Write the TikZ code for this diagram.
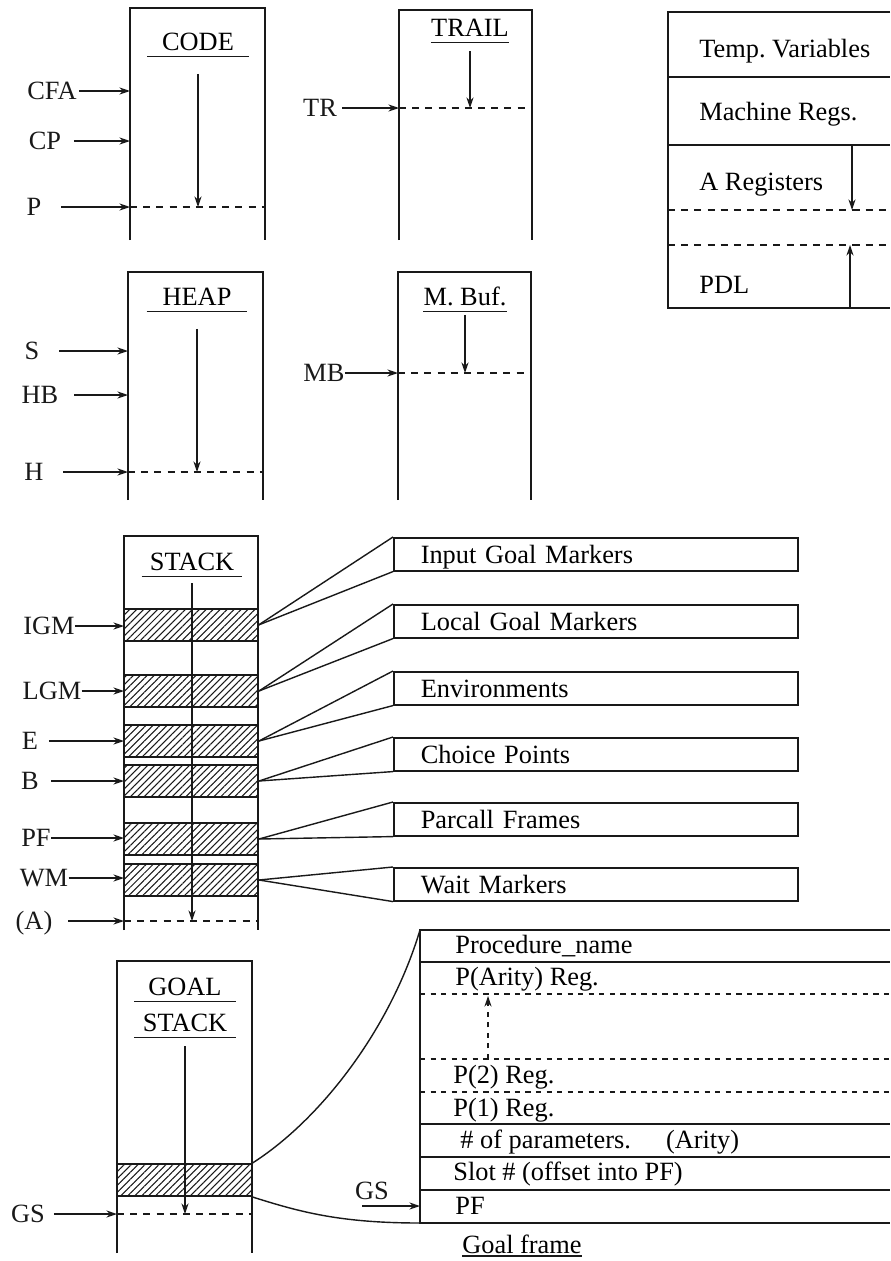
\documentclass[tikz,border=0pt]{standalone}
\usepackage{fontspec}
\setmainfont{Liberation Serif}
\frenchspacing
\usetikzlibrary{arrows.meta, positioning, patterns.meta, calc}
\definecolor{Ink}{RGB}{25, 25, 25}
\tikzset{
  % outline of a memory area
  membox/.style={draw=Ink, line width=0.9pt},
  % pointer name left of an area
  ptrlbl/.style={inner sep=0pt, text height=10pt, text depth=0pt, text=Ink},
  % pointer arrow (gap before the tail as argument)
  ptr/.style={-{Stealth[length=6pt,width=4pt]}, line width=0.8pt, draw=Ink,
              shorten <=#1},
  ptr/.default=1pt,
  % growth direction inside an area
  growarrow/.style={-{Stealth[length=6pt,width=4pt]}, line width=0.6pt, draw=Ink},
  % current top of an area
  toptick/.style={dash pattern=on 4pt off 3.5pt, line width=0.8pt, draw=Ink},
  % underlined area title
  areatitle/.style={inner xsep=0pt, inner ysep=3pt, text height=10pt,
                    text depth=0pt, minimum width=#1,
    append after command={(\tikzlastnode.south west)
                          edge[line width=0.8pt, draw=Ink] (\tikzlastnode.south east)}},
  areatitle/.default=0pt,
  % hatched frame inside the stack
  band/.style={rectangle, draw=Ink, line width=1.1pt,
               pattern={Lines[angle=45, distance=2.8pt, line width=0.6pt]},
               pattern color=Ink, minimum width=2.68cm, minimum height=0.64cm,
               inner sep=0pt},
  % legend box for a frame type
  flagbox/.style={rectangle, draw=Ink, line width=0.9pt, anchor=north west,
                  minimum height=0.66cm, text width=7cm, inner xsep=0.54cm,
                  inner ysep=0pt, align=left, text height=10pt, text depth=0pt},
  fan/.style={line width=0.8pt, draw=Ink},
  % left aligned text in a table
  frametxt/.style={anchor=west, inner sep=0pt, text height=10pt, text depth=0pt}
}
\begin{document}
\begin{tikzpicture}[x=0.02cm, y=-0.02cm, font=\fontsize{15}{18}\selectfont]
  \useasboundingbox (0,0) rectangle (890,1261);

  % ── CODE ────────────────────────────────────────────────
  \coordinate (code-nw) at (130,8);
  \coordinate (code-ne) at (265,8);
  \draw[membox] (130,240) -- (code-nw) -- (code-ne) -- (265,240);
  \node[areatitle=2.02cm] (code) at (198,42) {CODE};
  \node[ptrlbl] (cfa) at (52,91)  {CFA};
  \node[ptrlbl] (cp)  at (45,141) {CP};
  \node[ptrlbl] (p)   at (34,207) {P};
  \draw[ptr]      (cfa.east) -- (cfa.east -| code-nw);
  \draw[ptr=7pt]  (cp.east)  -- (cp.east -| code-nw);
  \draw[ptr=11pt] (p.east)   -- (p.east -| code-nw);
  \draw[toptick] (p.east -| code-nw) -- (p.east -| code-ne);
  \draw[growarrow, shorten <=10pt] (code.south) -- (code.south |- p.east);

  % ── TRAIL ───────────────────────────────────────────────
  \coordinate (trail-nw) at (399,10);
  \coordinate (trail-ne) at (532,10);
  \draw[membox] (399,240) -- (trail-nw) -- (trail-ne) -- (532,240);
  \node[areatitle] (trail) at (470,28) {TRAIL};
  \node[ptrlbl] (tr) at (320,108) {TR};
  \draw[ptr=3pt] (tr.east) -- (tr.east -| trail-nw);
  \draw[toptick] (tr.east -| trail-nw) -- (tr.east -| trail-ne);
  \draw[growarrow, shorten <=5pt] (trail.south) -- (trail.south |- tr.east);

  % ── REGISTERS ───────────────────────────────────────────
  \coordinate (reg-nw) at (668,12);
  \coordinate (reg-sw) at (668,308);
  \draw[membox] (890,12) -- (reg-nw) -- (reg-sw) -- (890,308);
  \foreach \y in {77,145} \draw[membox] (668,\y) -- (890,\y);
  \foreach \y in {210,245} \draw[toptick] (668,\y) -- (890,\y);
  \node[frametxt] (r-temp) at (699,49)  {Temp. Variables};
  \node[frametxt] (r-mach) at (699,112) {Machine Regs.};
  \node[frametxt] (r-areg) at (699,182) {A Registers};
  \node[frametxt] (r-pdl)  at (699,285) {PDL};
  \coordinate (areg-top) at (852,145);
  \coordinate (areg-end) at (852,210);
  \coordinate (pdl-bot)  at (850,308);
  \coordinate (pdl-end)  at (850,245);
  \draw[growarrow] (areg-top) -- (areg-end);
  \draw[growarrow] (pdl-bot) -- (pdl-end);

  % ── HEAP ────────────────────────────────────────────────
  \coordinate (heap-nw) at (128,272);
  \coordinate (heap-ne) at (263,272);
  \draw[membox] (128,500) -- (heap-nw) -- (heap-ne) -- (263,500);
  \node[areatitle=2cm] (heap) at (197,297) {HEAP};
  \node[ptrlbl] (s)  at (32,351) {S};
  \node[ptrlbl] (hb) at (40,395) {HB};
  \node[ptrlbl] (h)  at (34,472) {H};
  \draw[ptr=11pt] (s.east)  -- (s.east -| heap-nw);
  \draw[ptr=9pt]  (hb.east) -- (hb.east -| heap-nw);
  \draw[ptr=11pt] (h.east)  -- (h.east -| heap-nw);
  \draw[toptick] (h.east -| heap-nw) -- (h.east -| heap-ne);
  \draw[growarrow, shorten <=10pt] (heap.south) -- (heap.south |- h.east);

  % ── M. BUF. ─────────────────────────────────────────────
  \coordinate (mbuf-nw) at (398,272);
  \coordinate (mbuf-ne) at (531,272);
  \draw[membox] (398,500) -- (mbuf-nw) -- (mbuf-ne) -- (531,500);
  \node[areatitle] (mbuf) at (465,297) {M. Buf.};
  \node[ptrlbl] (mb) at (324,373) {MB};
  \draw[ptr=0pt] (mb.east) -- (mb.east -| mbuf-nw);
  \draw[toptick] (mb.east -| mbuf-nw) -- (mb.east -| mbuf-ne);
  \draw[growarrow, shorten <=2pt] (mbuf.south) -- (mbuf.south |- mb.east);

  % ── STACK ───────────────────────────────────────────────
  \coordinate (stack-nw) at (124,536);
  \coordinate (stack-ne) at (258,536);
  \draw[membox] (124,930) -- (stack-nw) -- (stack-ne) -- (258,930);
  \node[areatitle=2cm] (stack) at (192,562) {STACK};

  % frames on the stack and what they are
  \foreach \nm/\yb/\yf/\txt in {igm/625/537/Input Goal Markers,
                                lgm/691/604/Local Goal Markers,
                                env/741/671/Environments,
                                chp/781/737/Choice Points,
                                pcf/839/802/Parcall Frames,
                                wmk/880/867/Wait Markers} {
    \node[band] (b-\nm) at (191,\yb) {};
    \node[flagbox] (f-\nm) at (393,\yf) {\txt};
    \draw[fan] (b-\nm.east) -- (f-\nm.north west);
    \draw[fan] (b-\nm.east) -- (f-\nm.south west);
  }

  \node[ptrlbl] (igm) at (49,626) {IGM};
  \node[ptrlbl] (lgm) at (52,691) {LGM};
  \node[ptrlbl] (e)   at (30,741) {E};
  \node[ptrlbl] (b)   at (30,781) {B};
  \node[ptrlbl] (pf)  at (36,838) {PF};
  \node[ptrlbl] (wm)  at (44,878) {WM};
  \node[ptrlbl] (a)   at (34,921) {(A)};
  \draw[ptr=0pt] (igm.east) -- (igm.east -| stack-nw);
  \draw[ptr=0pt] (lgm.east) -- (lgm.east -| stack-nw);
  \draw[ptr=6pt] (e.east)   -- (e.east -| stack-nw);
  \draw[ptr=7pt] (b.east)   -- (b.east -| stack-nw);
  \draw[ptr=0pt] (pf.east)  -- (pf.east -| stack-nw);
  \draw[ptr=0pt] (wm.east)  -- (wm.east -| stack-nw);
  \draw[ptr=9pt] (a.east)   -- (a.east -| stack-nw);
  \draw[toptick] (a.east -| stack-nw) -- (a.east -| stack-ne);
  \draw[growarrow, shorten <=4pt] (stack.south) -- (stack.south |- a.east);

  % ── GOAL STACK ──────────────────────────────────────────
  \coordinate (goal-nw) at (117,961);
  \coordinate (goal-ne) at (252,961);
  \draw[membox] (117,1253) -- (goal-nw) -- (goal-ne) -- (252,1253);
  \node[areatitle=2.02cm] (goal1) at (185,987)  {GOAL};
  \node[areatitle=2.02cm] (goal2) at (185,1023) {STACK};
  \node[band, minimum width=2.7cm] (b-goal) at (184,1180) {};
  \node[ptrlbl] (gs) at (28,1214) {GS};
  \draw[ptr=5pt] (gs.east) -- (gs.east -| goal-nw);
  \draw[toptick] (gs.east -| goal-nw) -- (gs.east -| goal-ne);
  \draw[growarrow, shorten <=5pt] (goal2.south) -- (goal2.south |- gs.east);

  % ── GOAL FRAME ──────────────────────────────────────────
  \coordinate (gf-nw) at (420,930);
  \coordinate (gf-sw) at (420,1223);
  \draw[membox] (890,930) -- (gf-nw) -- (gf-sw) -- (890,1223);
  \foreach \y in {962,1124,1157,1190} \draw[membox] (420,\y) -- (890,\y);
  \foreach \y in {994,1059,1092} \draw[toptick, dash pattern=on 3pt off 3pt] (420,\y) -- (890,\y);
  \node[frametxt] (r-name)  at (455,945)  {Procedure\_name};
  \node[frametxt] (r-pn)    at (455,977)  {P(Arity) Reg.};
  \node[frametxt] (r-p2)    at (453,1075) {P(2) Reg.};
  \node[frametxt] (r-p1)    at (453,1108) {P(1) Reg.};
  \node[frametxt] (r-arity) at (460,1140) {\# of parameters.\hspace{20pt}(Arity)};
  \node[frametxt] (r-slot)  at (453,1172) {Slot \# (offset into PF)};
  \node[frametxt] (r-pf)    at (455,1206) {PF};
  \node[areatitle, inner ysep=1pt] (gframe) at (522,1245) {Goal frame};
  \coordinate (pn-lo) at (488,1059);
  \coordinate (pn-hi) at (488,996);
  \draw[growarrow, dash pattern=on 3pt off 3pt] (pn-lo) -- (pn-hi);

  % goal stack entry opened up into the frame
  \draw[fan] (b-goal.north east) .. controls (320,1120) and (390,1030) .. (gf-nw);
  \draw[fan] (b-goal.south east) .. controls (300,1212) and (340,1223) .. (gf-sw);
  \node[ptrlbl] (gsf) at (372,1191) {GS};
  \coordinate (gsf-tail) at (362,1206);
  \draw[ptr=0pt] (gsf-tail) -- (gsf-tail -| gf-sw);

\end{tikzpicture}
\end{document}
